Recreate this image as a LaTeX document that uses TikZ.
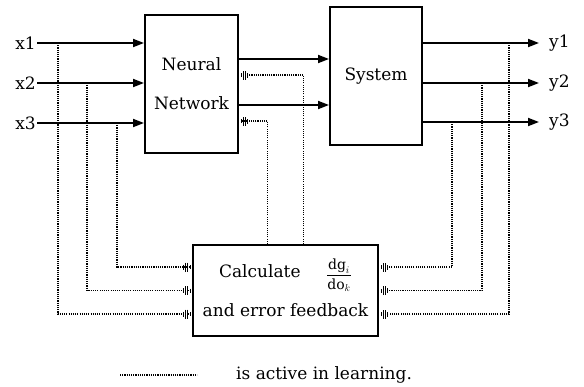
\documentclass[tikz,border=0pt]{standalone}
\usepackage{amsmath}
\usepackage{fontspec}
\setmainfont{DejaVu Serif}
\usepackage{tikz}
\usetikzlibrary{shapes,arrows.meta,positioning}

\tikzset{
  blk/.style={draw, line width=2pt, inner sep=0pt, align=center,
    font=\fontsize{17}{39}\selectfont},
  lbl/.style={inner sep=1pt, font=\fontsize{17}{18}\selectfont},
  sig/.style={line width=1.9pt, -{Triangle[length=11pt,width=8pt]}},
  tap/.style={line width=1.3pt, dash pattern=on 1.1pt off 1.1pt},
  fbtip/.tip={Bar[width=5pt,line width=1pt,sep=1.3pt] Bar[width=9pt,line width=1.1pt,sep=0.9pt] Bar[width=9pt,line width=1.1pt,sep=1.2pt] Bar[width=4pt,line width=1pt,sep=1.5pt]},
  fb/.style={tap, -fbtip}
}

\begin{document}
\begin{tikzpicture}[x=1pt,y=-1pt]
  \useasboundingbox (0,0) rectangle (584,386);

  % boxes
  \node[blk, minimum width=93pt, minimum height=138pt] (nn) at (191.5,84) {Neural\\Network};
  \node[blk, minimum width=92pt, minimum height=138pt] (sys) at (376,76) {System};
  \node[blk, minimum width=185pt, minimum height=91pt] (calc) at (285.5,290.5)
    {Calculate\hspace{1.5em}\raisebox{-2pt}[0pt][0pt]{\fontsize{14}{14}\selectfont$\dfrac{\mathrm{dg}_i}{\mathrm{do}_k}$}\\and error feedback};

  % inputs
  \node[lbl, anchor=east] (x1) at (37,43) {x1};
  \node[lbl, anchor=east] (x2) at (37,83) {x2};
  \node[lbl, anchor=east] (x3) at (37,123) {x3};
  \draw [sig] (x1.east) -- (x1.east -| nn.west);
  \draw [sig] (x2.east) -- (x2.east -| nn.west);
  \draw [sig] (x3.east) -- (x3.east -| nn.west);

  % network to system
  \draw [sig] ([yshift=25pt]nn.east) -- ([yshift=25pt]nn.east -| sys.west);
  \draw [sig] ([yshift=-21pt]nn.east) -- ([yshift=-21pt]nn.east -| sys.west);

  % outputs
  \node[lbl, anchor=west] (y1) at (548,43) {y1};
  \node[lbl, anchor=west] (y2) at (548,83) {y2};
  \node[lbl, anchor=west] (y3) at (548,122) {y3};
  \coordinate (e1) at (539,43);
  \coordinate (e2) at (539,83);
  \coordinate (e3) at (539,122);
  \draw [sig] (e1 -| sys.east) -- (e1);
  \draw [sig] (e2 -| sys.east) -- (e2);
  \draw [sig] (e3 -| sys.east) -- (e3);

  % taps
  \coordinate (tx1) at (58,43);
  \coordinate (tx2) at (87,83);
  \coordinate (tx3) at (117,123);
  \coordinate (ty1) at (509,43);
  \coordinate (ty2) at (482,83);
  \coordinate (ty3) at (452,122);

  % learning paths into calc
  \draw [fb] (tx3) |- ([yshift=23.5pt]calc.west);
  \draw [fb] (tx2) |- (calc.west);
  \draw [fb] (tx1) |- ([yshift=-23.5pt]calc.west);
  \draw [fb] (ty3) |- ([yshift=23.5pt]calc.east);
  \draw [fb] (ty2) |- (calc.east);
  \draw [fb] (ty1) |- ([yshift=-23.5pt]calc.east);

  % error feedback to network
  \draw [fb] ([xshift=18pt]calc.north) |- ([yshift=9pt]nn.east);
  \draw [fb] ([xshift=-18pt]calc.north) |- ([yshift=-37pt]nn.east);

  % legend
  \coordinate (lga) at (120,375);
  \coordinate (lgb) at (197,375);
  \draw [tap] (lga) -- (lgb);
  \node[lbl, anchor=west] (lgt) at (235,375) {is active in learning.};
\end{tikzpicture}
\end{document}
